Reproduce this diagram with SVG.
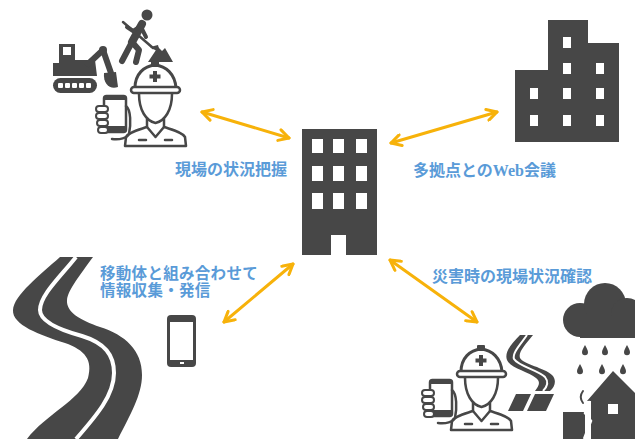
<svg xmlns="http://www.w3.org/2000/svg" xmlns:xlink="http://www.w3.org/1999/xlink" width="635" height="439" viewBox="0 0 635 439">
  <style>
    .ink { fill: #474747; }
    .white { fill: #ffffff; }
    .line { fill: none; stroke: #474747; stroke-linecap: round; stroke-linejoin: round; }
    .link { fill: none; stroke: #f7b20a; stroke-width: 3; stroke-linecap: round; }
    .label { font-family: "Noto Sans CJK JP", "Noto Sans", sans-serif; font-size: 16px; font-weight: bold; fill: #5a9bd8; }
    .small { font-size: 15.5px; }
    .latin { font-family: "Liberation Serif", serif; }
  </style>
  <defs>
    <marker id="head" viewBox="0 0 14 14" markerWidth="14" markerHeight="14" refX="12" refY="7" markerUnits="userSpaceOnUse" orient="auto-start-reverse">
      <path d="M2,1.5 L12,7 L2,12.5" fill="none" stroke="#f7b20a" stroke-width="3" stroke-linecap="round" stroke-linejoin="round"/>
    </marker>
    <!-- worker with hard hat holding a phone -->
    <g id="helmet-worker">
      <!-- helmet -->
      <path d="M135,88 C135,74 144,66 155,65 C166,66 175,74 176,88 Z" fill="#fff" stroke="#474747" stroke-width="3"/>
      <rect x="151" y="61" width="8" height="6" rx="1" class="ink"/>
      <rect x="153" y="71" width="4" height="11" class="ink"/>
      <rect x="149.5" y="74.5" width="11" height="4" class="ink"/>
      <rect x="131" y="87" width="49" height="6" rx="3" fill="#fff" stroke="#474747" stroke-width="2.5"/>
      <!-- head and shoulders -->
      <path d="M139,94 C139,110 146,121 155.5,123 C165,121 172,110 172,94" class="line" stroke-width="2.5"/>
      <path d="M147,119 L147,127 C138,130 129,132 126,137 L125,146 M164,119 L164,127 C173,130 182,132 185,137 L186,146 M125,146 L186,146" class="line" stroke-width="2.5"/>
      <path d="M147,127 L155.5,137 L164,127" class="line" stroke-width="2.5"/>
      <path d="M139,140 L146,140 M165,140 L172,140" class="line" stroke-width="2.5"/>
      <!-- phone and hand -->
      <rect x="104" y="96" width="22" height="36" rx="2.5" fill="#fff" stroke="#474747" stroke-width="2.5"/>
      <rect x="104" y="96" width="22" height="4" class="ink"/>
      <rect x="104" y="126" width="22" height="6" class="ink"/>
      <path d="M126,106 C131,110 131,124 129,134 C127,138 120,140 112,139" class="line" stroke-width="2.5"/>
      <rect x="96" y="106" width="12" height="6" rx="3" fill="#fff" stroke="#474747" stroke-width="2"/>
      <rect x="96" y="113" width="12" height="6" rx="3" fill="#fff" stroke="#474747" stroke-width="2"/>
      <rect x="97" y="120" width="11" height="6" rx="3" fill="#fff" stroke="#474747" stroke-width="2"/>
      <rect x="98" y="127" width="10" height="6" rx="3" fill="#fff" stroke="#474747" stroke-width="2"/>
    </g>
    <path id="drop" d="M0,-5 C1.8,-1.5 3,0.5 3,2.2 A3,3 0 0 1 -3,2.2 C-3,0.5 -1.8,-1.5 0,-5 Z" fill="#474747"/>
  </defs>

  <!-- connectors -->
  <g id="connectors">
    <line class="link" x1="202" y1="112" x2="289" y2="138" marker-start="url(#head)" marker-end="url(#head)"/>
    <line class="link" x1="391" y1="143" x2="497" y2="112" marker-start="url(#head)" marker-end="url(#head)"/>
    <line class="link" x1="293" y1="264" x2="224" y2="322" marker-start="url(#head)" marker-end="url(#head)"/>
    <line class="link" x1="390" y1="260" x2="477" y2="322" marker-start="url(#head)" marker-end="url(#head)"/>
  </g>

  <!-- head office -->
  <g id="hq">
    <rect x="302" y="129" width="75" height="126" class="ink"/>
    <g class="white">
      <rect x="312" y="139" width="11" height="14"/>
      <rect x="333" y="139" width="11" height="14"/>
      <rect x="356" y="139" width="11" height="14"/>
      <rect x="312" y="166" width="11" height="15"/>
      <rect x="333" y="166" width="11" height="15"/>
      <rect x="356" y="166" width="11" height="15"/>
      <rect x="312" y="193" width="11" height="16"/>
      <rect x="333" y="193" width="11" height="16"/>
      <rect x="356" y="193" width="11" height="16"/>
      <rect x="331" y="235" width="15" height="20"/>
    </g>
  </g>

  <!-- construction site -->
  <g id="site">
    <!-- excavator -->
    <rect x="53" y="78" width="44" height="15" rx="7.5" class="ink"/>
    <g class="white">
      <rect x="58" y="83" width="5" height="5" rx="1"/>
      <rect x="65" y="83" width="5" height="5" rx="1"/>
      <rect x="72" y="83" width="5" height="5" rx="1"/>
      <rect x="79" y="83" width="5" height="5" rx="1"/>
      <rect x="86" y="83" width="5" height="5" rx="1"/>
    </g>
    <path d="M53,76 L53,63 L59,63 L59,44 L75,44 L75,60 L95,60 L97,76 Z" class="ink"/>
    <rect x="63" y="47" width="8" height="8" class="white"/>
    <path d="M88,64 L103,50 L111,73" class="line" stroke-width="6"/>
    <circle cx="103" cy="50" r="4" class="ink"/>
    <path d="M104,73 C103,84 110,90 118,87 L116,72 Z" class="ink"/>
    <!-- digger with shovel -->
    <circle cx="147" cy="15" r="5.5" class="ink"/>
    <path d="M142,24 L132,42" class="line" stroke-width="8"/>
    <path d="M132,42 L122,61 M132,42 L139,50 L136,62" class="line" stroke-width="6"/>
    <path d="M141,26 L133,31 L127,27 M141,27 L146,37" class="line" stroke-width="4"/>
    <path d="M123,22 L153,48" class="line" stroke-width="2.5"/>
    <path d="M150,47 L158,45 L160,53 Z" class="ink"/>
    <path d="M148,62 L158,47 L162,51 L165,48 L173,62 Z" class="ink"/>
    <use xlink:href="#helmet-worker"/>
    <text class="label" x="175" y="175">現場の状況把握</text>
  </g>

  <!-- remote office -->
  <g id="branch">
    <path d="M515,70 H548 V20 H588 V43 H619 V142 H515 Z" class="ink"/>
    <g class="white">
      <rect x="563" y="37" width="8" height="11"/>
      <rect x="563" y="63" width="8" height="11"/>
      <rect x="596" y="63" width="8" height="11"/>
      <rect x="530" y="88" width="8" height="11"/>
      <rect x="563" y="88" width="8" height="11"/>
      <rect x="596" y="88" width="8" height="11"/>
      <rect x="530" y="115" width="8" height="11"/>
      <rect x="563" y="115" width="8" height="11"/>
      <rect x="596" y="115" width="8" height="11"/>
    </g>
    <text class="label" x="413" y="176">多拠点との<tspan class="latin">Web</tspan>会議</text>
  </g>

  <!-- mobile collection -->
  <g id="mobile">
    <path d="M60,257 L93,257 C80,275 68,290 67,300 C66,312 80,320 100,327 C125,335 142,350 142,375 C142,395 130,415 118,439 L27,439 C45,415 80,400 88,378 C93,360 85,350 65,343 C40,335 12,325 13,310 C14,295 40,275 60,257 Z" class="ink"/>
    <path d="M76,257 C62,275 40,295 40,310 C40,322 60,330 82,336 C105,343 114,355 114,373 C114,395 97,415 76,439" fill="none" stroke="#fff" stroke-width="4"/>
    <rect x="167" y="315" width="29" height="52" rx="4" class="ink"/>
    <rect x="170" y="322" width="23" height="38" class="white"/>
    <rect x="180" y="362" width="4" height="2" class="white"/>
    <text class="label small" x="100" y="279" letter-spacing="0.3">移動体と組み合わせて<tspan x="100" dy="17">情報収集・発信</tspan></text>
  </g>

  <!-- disaster site -->
  <g id="disaster">
    <use xlink:href="#helmet-worker" transform="translate(326,284)"/>
    <!-- damaged road -->
    <path d="M520,335 L533,335 C525,345 518,352 520,358 C523,364 545,368 552,375 C557,380 555,387 550,391 L535,391 C539,386 541,382 536,378 C529,372 510,368 507,360 C504,352 512,343 520,335 Z" class="ink"/>
    <path d="M527,335 C520,345 512,353 514,359 C518,366 538,370 545,377 C549,382 547,387 543,391" fill="none" stroke="#fff" stroke-width="2"/>
    <path d="M516,394 L531,394 L523,411 L508,411 Z M535,394 L554,394 L546,411 L527,411 Z" class="ink"/>
    <!-- storm cloud and rain -->
    <circle cx="580" cy="320" r="17" class="ink"/>
    <circle cx="605" cy="304" r="21" class="ink"/>
    <circle cx="627" cy="314" r="16" class="ink"/>
    <rect x="580" y="316" width="55" height="22" class="ink"/>
    <use xlink:href="#drop" x="585" y="350"/>
    <use xlink:href="#drop" x="605" y="350"/>
    <use xlink:href="#drop" x="627" y="350"/>
    <use xlink:href="#drop" x="580" y="369"/>
    <use xlink:href="#drop" x="602" y="369"/>
    <use xlink:href="#drop" x="623" y="369"/>
    <!-- shaking house -->
    <path d="M587,401 L613,371 L635,393 L635,439 L591,439 L591,401 Z" class="ink"/>
    <rect x="608" y="404" width="10" height="10" class="white"/>
    <rect x="563" y="412" width="22" height="27" class="ink"/>
    <path d="M590,401 L585,413 L591,421 L584,439" fill="none" stroke="#fff" stroke-width="2.5"/>
    <path d="M583,391 C580,395 580,399 583,403" class="line" stroke-width="2"/>
    <text class="label" x="432" y="282">災害時の現場状況確認</text>
  </g>
</svg>
